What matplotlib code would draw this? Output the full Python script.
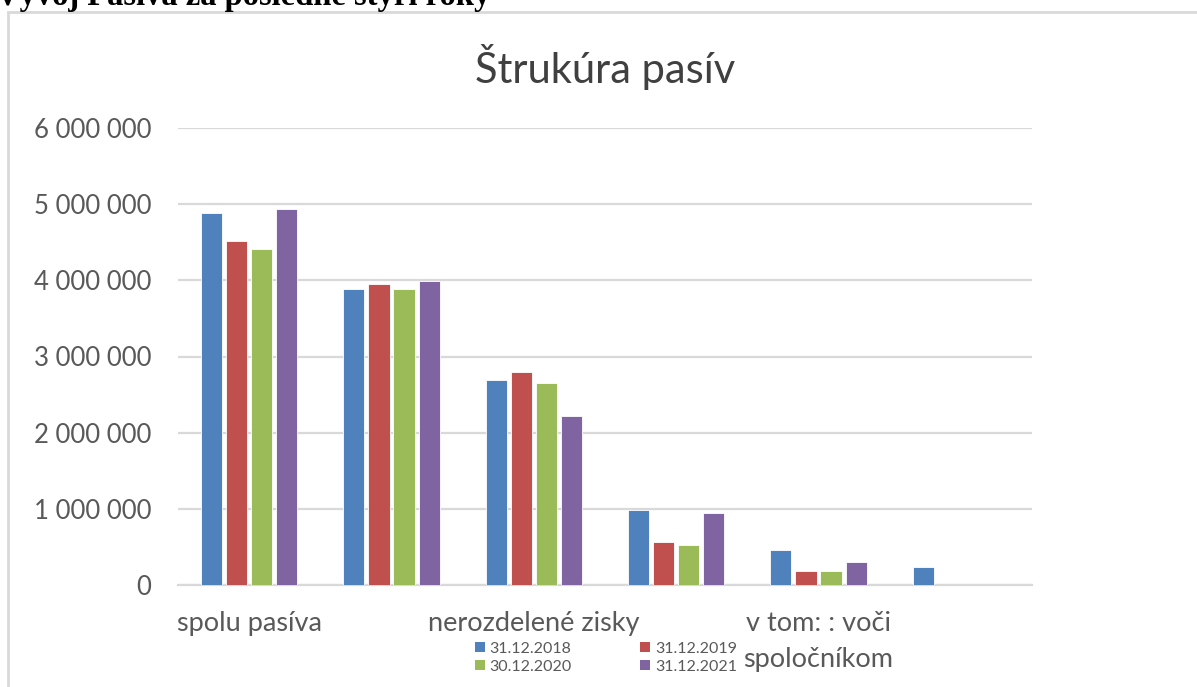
import matplotlib
matplotlib.use('Agg')
import matplotlib.pyplot as plt
import numpy as np
from matplotlib.patches import Rectangle, Patch

plt.rcParams['font.family'] = ['Lato', 'DejaVu Sans']

# data
categories = ['spolu pasíva', '', 'nerozdelené zisky', '', 'v tom: : voči\nspoločníkom', '']
series = ['31.12.2018', '31.12.2019', '30.12.2020', '31.12.2021']
v2018 = [4890000, 3880000, 2690000, 990000, 455000, 240000]
v2019 = [4510000, 3950000, 2790000, 560000, 180000, 0]
v2020 = [4410000, 3890000, 2650000, 520000, 180000, 0]
v2021 = [4930000, 3990000, 2220000, 940000, 300000, 0]
yticks = [0, 1000000, 2000000, 3000000, 4000000, 5000000, 6000000]

colors = ['#4F81BD', '#C0504D', '#9BBB59', '#8064A2']
values = [v2018, v2019, v2020, v2021]

W, H = 1197, 687
fig = plt.figure(figsize=(W / 100, H / 100), dpi=100)

# chart frame
fig.patches.append(Rectangle((8 / W, -0.05), 1.2, 1 - 12 / H + 0.05, transform=fig.transFigure,
                             fill=False, edgecolor='#d9d9d9', lw=2.0, zorder=0))

# document heading, clipped at the top like in the source page
fig.text(-4 / W, 1 - 5 / H, 'Vývoj Pasíva za posledné štyri roky', family='Liberation Serif',
         fontweight='bold', fontsize=23.5, ha='left', va='baseline', color='black')

ax = fig.add_axes([178 / W, 1 - 585 / H, (1032 - 178) / W, (585 - 128) / H])
x = np.arange(len(categories))
step = 0.176
bw = 0.148
for i, (vals, c) in enumerate(zip(values, colors)):
    ax.bar(x + (i - 1.5) * step, vals, bw, color=c, edgecolor='white', lw=0.6,
           label=series[i], zorder=3)

ax.set_xlim(-0.5, len(categories) - 0.5)
ax.set_ylim(0, 6000000)
ax.set_yticks(yticks)
ax.set_yticklabels([f'{v:,}'.replace(',', ' ') for v in yticks])
ax.set_xticks(x)
ax.set_xticklabels(categories, linespacing=1.55)
ax.tick_params(axis='y', length=0, pad=19, labelsize=18.5, labelcolor='#595959')
ax.tick_params(axis='x', length=0, pad=19, labelsize=19.5, labelcolor='#595959')
ax.grid(axis='y', color='#d9d9d9', lw=1.6, zorder=0)
for s in ['top', 'right', 'left']:
    ax.spines[s].set_visible(False)
ax.spines['bottom'].set_color('#d9d9d9')
ax.spines['bottom'].set_linewidth(1.6)

fig.text(605 / W, 1 - 67 / H, 'Štrukúra pasív', fontsize=30, color='#404040',
         ha='center', va='center')

order = [0, 2, 1, 3]
handles = [Patch(facecolor=colors[k]) for k in order]
labels = [series[k] for k in order]
fig.legend(handles, labels, loc='center', bbox_to_anchor=(606 / W, 1 - 658 / H), ncol=2,
           frameon=False, fontsize=11.5, labelcolor='#595959', handlelength=0.6, handleheight=0.6,
           handletextpad=0.3, columnspacing=4.3, labelspacing=0.25, borderpad=0.1)

fig.savefig('out.png', dpi=100)
